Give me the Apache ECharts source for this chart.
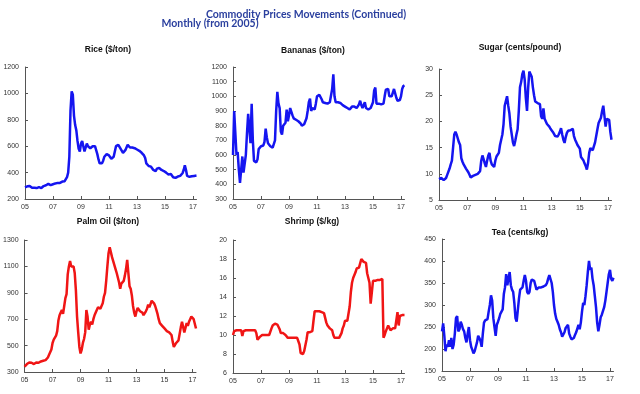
<!DOCTYPE html>
<html><head><meta charset="utf-8">
<script src="https://cdn.jsdelivr.net/npm/echarts@6/dist/echarts.min.js"></script>
<style>html,body{margin:0;padding:0;background:#fff}#c{width:640px;height:394px}</style>
</head><body><div id="c"></div>
<script>
const tickLabels = ['05','07','09','11','13','15','17'];
const titles = ['Rice ($/ton)','Bananas ($/ton)','Sugar (cents/pound)','Palm Oil ($/ton)','Shrimp ($/kg)','Tea (cents/kg)'];
const rice = [288,292,296,300,298,290,285,282,285,282,283,288,
 290,287,283,292,298,300,304,310,315,312,305,308,
 312,316,318,320,322,320,322,328,332,330,335,340,
 365,400,520,870,1015,990,830,760,720,640,580,560,
 620,640,600,560,555,620,600,610,585,570,600,605,
 600,585,540,500,470,460,470,490,520,535,540,538,
 530,525,505,500,520,560,600,612,610,600,580,570,
 550,555,570,590,610,600,590,585,590,588,585,580,
 575,570,565,560,550,540,530,510,470,455,450,450,
 445,440,420,405,410,430,440,435,425,420,415,412,
 410,400,392,385,380,390,375,365,360,360,362,370,
 372,375,380,395,420,455,420,375,365,368,370,372,
 372,375,375,378];
const bananas = [600,900,890,600,620,500,410,400,590,480,470,600,
 750,880,870,680,950,700,560,550,550,570,640,650,
 660,660,665,690,780,720,680,670,660,655,650,650,
 700,900,1030,950,920,760,740,800,805,820,910,830,
 870,920,910,870,850,845,840,835,830,820,815,800,
 790,810,830,850,900,960,985,900,920,920,910,950,
 1000,1005,1010,1020,980,960,960,955,960,950,950,960,
 960,1050,1150,1000,960,965,960,960,955,950,940,940,
 930,930,920,915,910,920,930,935,930,940,920,930,
 945,970,940,920,930,960,920,915,910,910,920,920,
 960,1040,1060,950,940,950,960,945,940,950,1000,1045,
 1040,1050,1000,990,1000,1010,1050,1060,990,970,965,975,
 1000,1050,1070,1075];
const sugar = [9.0,8.8,9.2,9.3,8.8,8.5,9.2,9.8,10.0,11.0,11.8,12.5,
 15.0,17.5,18.0,17.5,17.3,16.0,15.5,13.0,12.3,11.8,11.5,11.0,
 10.8,10.3,9.8,9.3,9.2,9.6,9.8,9.8,10.0,10.0,10.1,10.5,
 12.5,13.5,12.8,12.0,11.3,12.5,13.5,14.0,12.5,11.8,11.8,11.3,
 12.5,13.3,13.2,14.0,15.5,16.5,17.5,19.5,23.0,23.3,24.8,23.0,
 21.5,19.0,17.5,16.0,15.3,16.3,17.5,18.5,22.0,26.5,27.5,29.0,
 29.7,28.0,24.5,22.0,26.5,29.5,29.2,28.5,26.5,25.0,23.8,23.6,
 23.5,23.6,23.3,21.0,20.5,22.5,20.5,20.3,19.5,19.3,19.0,18.6,
 18.3,18.0,17.6,17.2,17.0,17.1,17.5,18.0,18.7,17.5,16.5,15.9,
 17.0,17.8,18.2,18.2,18.3,18.4,18.6,17.2,16.5,16.0,15.5,15.2,
 14.8,13.2,12.9,12.6,12.0,11.5,10.8,12.0,14.0,14.9,14.8,14.5,
 14.5,16.0,16.0,18.5,19.7,20.0,20.7,22.0,23.0,21.0,19.0,20.5,
 20.4,20.3,18.0,16.5];
const palmOil = [340,345,360,370,372,368,370,365,360,368,372,375,
 370,378,380,385,385,388,390,395,410,430,425,470,
 520,545,560,575,610,690,730,750,770,740,800,860,
 890,1040,1100,1140,1100,1090,1100,1050,920,720,600,490,
 440,470,520,550,600,770,720,620,660,680,660,700,
 730,750,760,790,800,780,770,820,870,900,990,1100,
 1200,1245,1240,1170,1140,1140,1080,1050,1040,980,930,970,
 985,990,1030,1080,1150,1050,950,930,880,800,750,720,
 760,785,775,760,765,750,730,730,760,780,810,790,
 800,840,850,820,800,770,740,700,670,660,650,645,
 630,625,610,605,600,605,580,530,490,495,520,530,
 540,590,640,680,640,600,600,670,650,680,700,720,
 725,700,690,630];
const shrimp = [10.0,10.4,10.5,10.5,10.5,10.5,10.4,10.5,9.9,10.4,10.5,10.5,
 10.5,10.5,10.5,10.5,10.5,10.5,10.5,10.5,10.2,9.5,9.5,9.8,
 9.9,10.0,10.0,10.0,10.0,10.0,10.0,10.0,10.2,10.7,11.0,11.1,
 11.2,11.2,11.1,11.0,10.6,10.2,10.2,10.2,10.1,10.0,9.8,9.7,
 9.7,9.7,9.7,9.7,9.7,9.7,9.7,9.7,9.6,9.0,8.1,7.9,
 8.0,8.3,8.4,9.5,10.3,10.3,10.3,10.3,10.4,11.5,12.5,12.5,
 12.5,12.5,12.5,12.5,12.4,12.4,12.3,11.8,11.3,11.0,10.8,10.7,
 10.6,10.5,10.0,9.7,9.7,9.7,9.7,9.7,9.8,10.2,10.7,11.0,
 11.5,11.5,11.5,11.6,13.0,14.5,15.5,16.0,16.2,16.6,17.0,17.0,
 17.1,17.3,18.0,17.8,17.7,17.7,17.6,16.5,16.0,15.5,13.3,14.5,
 15.7,15.7,15.7,15.7,15.8,15.8,15.8,15.9,15.9,9.7,10.0,10.4,
 10.7,11.0,11.0,10.5,10.6,10.7,10.7,10.7,10.8,12.4,11.0,12.0,
 12.1,12.1,12.1,12.1];
const tea = [240,258,230,195,210,205,220,205,225,200,210,235,
 270,275,240,245,262,255,245,240,225,215,235,250,
 220,205,198,190,195,205,215,230,225,218,205,235,
 260,265,262,268,285,300,322,310,270,250,230,255,
 262,270,280,285,290,325,340,370,345,360,375,345,
 335,330,305,270,262,260,315,335,338,340,355,368,
 355,330,325,330,350,358,362,355,345,335,338,340,
 340,340,340,342,342,345,350,360,368,365,350,330,
 300,280,268,262,255,245,238,228,225,238,248,252,
 255,235,228,222,220,225,232,238,240,255,245,260,
 285,305,300,320,345,375,400,380,385,360,345,320,
 295,260,240,255,272,278,280,295,310,330,350,370,
 380,360,355,362];

const months = [];
for (let y = 2005; y <= 2017; y++) for (let m = 1; m <= 12; m++) months.push(String(y % 100).padStart(2,'0') + '-' + m);
const cats = months.slice(0, rice.length);

const panels = [
 {data: rice, color:'#1515f0', min:200, max:1200, step:200, left:25, top:67, bottom:199, width:171.5, tx:108, ty:50},
 {data: bananas, color:'#1515f0', min:300, max:1200, step:100, left:233, top:67, bottom:199, width:171.5, tx:313, ty:51},
 {data: sugar, color:'#1515f0', min:5, max:30, step:5, left:439, top:69, bottom:200, width:172.5, tx:520, ty:48},
 {data: palmOil, color:'#f01515', min:300, max:1300, step:200, left:24, top:240, bottom:372, width:172, tx:108, ty:222},
 {data: shrimp, color:'#f01515', min:6, max:20, step:2, left:233, top:240, bottom:373, width:171.5, tx:312, ty:222},
 {data: tea, color:'#1515f0', min:150, max:450, step:50, left:442, top:239, bottom:371, width:171.5, tx:520, ty:233}
];

const chart = echarts.init(document.getElementById('c'), null, {renderer:'canvas'});
const grid = [], xAxis = [], yAxis = [], series = [], graphic = [];
panels.forEach((p, i) => {
  grid.push({left:p.left, top:p.top, width:p.width, height:p.bottom - p.top});
  xAxis.push({type:'category', gridIndex:i, data:cats, boundaryGap:false,
    axisLine:{lineStyle:{color:'#555', width:1}},
    axisTick:{show:true, inside:true, length:3, interval:23, lineStyle:{color:'#555'}},
    axisLabel:{interval:23, color:'#333', fontSize:7, fontFamily:'Liberation Sans', margin:5,
      formatter:(v, idx) => tickLabels[Math.round(idx / 24)] || ''},
    splitLine:{show:false}});
  yAxis.push({type:'value', gridIndex:i, min:p.min, max:p.max, interval:p.step,
    axisLine:{show:true, lineStyle:{color:'#555', width:1}},
    axisTick:{show:true, inside:true, length:3, lineStyle:{color:'#555'}},
    axisLabel:{color:'#333', fontSize:7, fontFamily:'Liberation Sans', margin:6, formatter:(v) => String(v)},
    splitLine:{show:false}});
  series.push({type:'line', xAxisIndex:i, yAxisIndex:i, data:p.data, showSymbol:false, symbol:'none',
    lineStyle:{color:p.color, width:2.5}, animation:false});
  graphic.push({type:'text', silent:true, style:{text:titles[i], x:p.tx, y:p.ty, textAlign:'center', textVerticalAlign:'middle', align:'center', verticalAlign:'middle', font:'bold 8.5px "Liberation Sans"', fill:'#111'}});
});
graphic.push({type:'text', silent:true, style:{text:'Commodity Prices Movements (Continued)', x:306, y:15, textAlign:'center', textVerticalAlign:'middle', align:'center', verticalAlign:'middle', font:'bold 10.5px Lato', fill:'#2a3f9e'}});
graphic.push({type:'text', silent:true, style:{text:'Monthly (from 2005)', x:210, y:24, textAlign:'center', textVerticalAlign:'middle', align:'center', verticalAlign:'middle', font:'bold 10.5px Lato', fill:'#2a3f9e'}});

chart.setOption({animation:false, grid, xAxis, yAxis, series, graphic});
</script></body></html>
